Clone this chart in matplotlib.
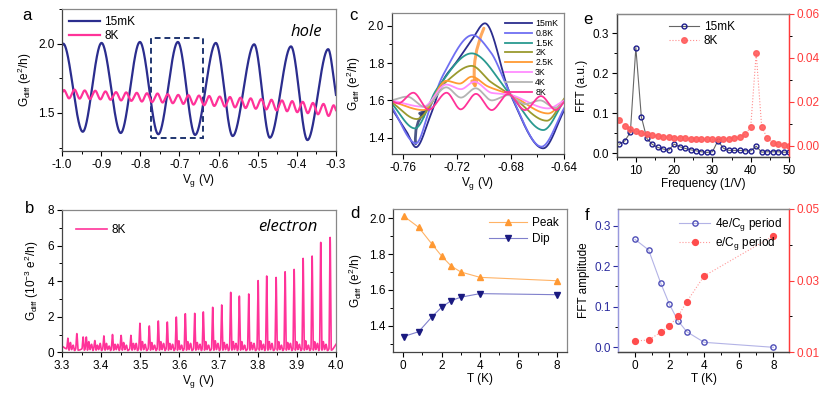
import numpy as np
import matplotlib
matplotlib.use('Agg')
import matplotlib.pyplot as plt
from matplotlib.patches import Rectangle, FancyArrowPatch
from matplotlib.ticker import MultipleLocator, FixedLocator

plt.rcParams['font.family'] = ['Liberation Sans', 'DejaVu Sans']
plt.rcParams['font.size'] = 8
plt.rcParams['mathtext.default'] = 'regular'

NAVY = '#2b2d8e'
PINK = '#ff3399'
RED = '#ff3b3b'

# ---- panel a: hole side, G_diff vs Vg (extrema) ----
a_15mk_v = [-1.0, -0.997, -0.947, -0.899, -0.850, -0.801, -0.754, -0.704, -0.660,
            -0.607, -0.564, -0.509, -0.469, -0.415, -0.373, -0.320, -0.300]
a_15mk_g = [1.985, 2.0, 1.364, 2.005, 1.355, 2.012, 1.346, 2.012, 1.341,
            2.005, 1.333, 1.995, 1.321, 1.98, 1.304, 1.96, 1.63]

a_8k_peak_v = [-0.995, -0.968, -0.942, -0.915, -0.889, -0.862, -0.836, -0.809, -0.783,
               -0.756, -0.730, -0.703, -0.677, -0.650, -0.624, -0.597, -0.571, -0.544,
               -0.518, -0.491, -0.465, -0.438, -0.412, -0.385, -0.359, -0.332, -0.306]
a_8k_peak_g = [1.665, 1.668, 1.662, 1.660, 1.655, 1.650, 1.648, 1.645, 1.642,
               1.640, 1.635, 1.630, 1.628, 1.625, 1.622, 1.618, 1.615, 1.610,
               1.605, 1.600, 1.595, 1.590, 1.585, 1.580, 1.572, 1.565, 1.555]
a_8k_dip_v = [-0.982, -0.955, -0.929, -0.902, -0.876, -0.849, -0.823, -0.796, -0.770,
              -0.743, -0.717, -0.690, -0.664, -0.637, -0.611, -0.584, -0.558, -0.531,
              -0.505, -0.478, -0.452, -0.425, -0.399, -0.372, -0.346, -0.319]
a_8k_dip_g = [1.605, 1.603, 1.600, 1.598, 1.595, 1.590, 1.587, 1.582, 1.578,
              1.575, 1.570, 1.565, 1.560, 1.555, 1.550, 1.546, 1.540, 1.535,
              1.530, 1.525, 1.518, 1.512, 1.505, 1.498, 1.490, 1.478]

# ---- panel b: electron side, 8K peaks ----
b_peak_v = [3.315, 3.338, 3.354, 3.362, 3.384, 3.407, 3.429, 3.451, 3.476, 3.499,
            3.523, 3.546, 3.569, 3.592, 3.615, 3.639, 3.661, 3.685, 3.708, 3.731,
            3.753, 3.777, 3.801, 3.823, 3.847, 3.870, 3.893, 3.916, 3.939, 3.961, 3.985]
b_peak_g = [0.79, 1.05, 0.86, 0.86, 0.66, 0.92, 1.0, 0.95, 0.95, 1.63,
            1.48, 1.76, 1.70, 1.98, 2.17, 2.19, 2.27, 2.53, 2.66, 3.37,
            3.16, 3.28, 4.03, 4.29, 4.21, 4.53, 4.66, 5.28, 5.41, 6.18, 6.46]
# small noise bumps on the baseline after each peak
b_side_g = [0.55, 0.45, 0.5, 0.6, 0.4, 0.5, 0.45, 0.55, 0.5, 0.6,
            0.55, 0.6, 0.5, 0.65, 0.6, 0.55, 0.6, 0.65, 0.55, 0.6,
            0.6, 0.55, 0.65, 0.6, 0.6, 0.55, 0.6, 0.65, 0.6, 0.6, 0.5]
b_side2_g = [0.4, 0.5, 0.35, 0.45, 0.5, 0.35, 0.45, 0.4, 0.5, 0.45,
             0.4, 0.5, 0.45, 0.4, 0.5, 0.45, 0.4, 0.5, 0.45, 0.5,
             0.4, 0.5, 0.45, 0.5, 0.4, 0.5, 0.45, 0.4, 0.5, 0.45, 0.4]

# ---- panel c: zoom of one period at several temperatures ----
c_labels = ['15mK', '0.8K', '1.5K', '2K', '2.5K', '3K', '4K', '8K']
c_colors = ['#2b2d8e', '#6f6ff2', '#2a9a90', '#9a9a2e', '#ff9a33', '#ff8cff', '#b4b4b4', '#ff3399']
c_v = [
    [-0.7686, -0.7575, -0.7505, -0.740, -0.7302, -0.7202, -0.709, -0.6991, -0.6805, -0.6557, -0.640],
    [-0.7686, -0.7505, -0.740, -0.730, -0.7083, -0.695, -0.6805, -0.657, -0.640],
    [-0.7686, -0.7513, -0.735, -0.709, -0.6805, -0.6557, -0.640],
    [-0.7686, -0.750, -0.728, -0.709, -0.695, -0.6805, -0.653, -0.640],
    [-0.7686, -0.745, -0.728, -0.718, -0.709, -0.697, -0.6805, -0.652, -0.640],
    [-0.7686, -0.745, -0.728, -0.717, -0.707, -0.694, -0.682, -0.652, -0.640],
    [-0.7686, -0.757, -0.744, -0.728, -0.717, -0.706, -0.694, -0.682, -0.669, -0.658, -0.647, -0.640],
    [-0.7686, -0.7637, -0.7525, -0.741, -0.7277, -0.7172, -0.7058, -0.6941, -0.6818, -0.6693, -0.6574, -0.6462, -0.640],
]
c_g = [
    [1.557, 1.432, 1.349, 1.513, 1.709, 1.807, 1.923, 2.013, 1.638, 1.343, 1.548],
    [1.566, 1.370, 1.560, 1.740, 1.950, 1.860, 1.640, 1.352, 1.560],
    [1.583, 1.450, 1.660, 1.852, 1.635, 1.441, 1.600],
    [1.590, 1.500, 1.700, 1.785, 1.700, 1.632, 1.491, 1.610],
    [1.595, 1.548, 1.705, 1.690, 1.727, 1.675, 1.632, 1.530, 1.600],
    [1.600, 1.566, 1.685, 1.660, 1.700, 1.640, 1.632, 1.557, 1.600],
    [1.600, 1.620, 1.565, 1.670, 1.615, 1.665, 1.600, 1.628, 1.580, 1.600, 1.560, 1.590],
    [1.597, 1.584, 1.641, 1.550, 1.641, 1.552, 1.635, 1.548, 1.634, 1.548, 1.623, 1.548, 1.593],
]

# ---- panel d: peak / dip vs T ----
T = [0.015, 0.8, 1.5, 2.0, 2.5, 3.0, 4.0, 8.0]
d_peak = [2.013, 1.950, 1.855, 1.789, 1.733, 1.700, 1.670, 1.651]
d_dip = [1.339, 1.366, 1.450, 1.503, 1.540, 1.559, 1.579, 1.573]

# ---- panel e: FFT spectra ----
freq = [5.71, 7.14, 8.57, 10.0, 11.43, 12.86, 14.29, 15.71, 17.14, 18.57, 20.0, 21.43,
        22.86, 24.29, 25.71, 27.14, 28.57, 30.0, 31.43, 32.86, 34.29, 35.71, 37.14, 38.57,
        40.0, 41.43, 42.86, 44.29, 45.71, 47.14, 48.57, 50.0]
fft_15mk = [0.023, 0.0315, 0.0525, 0.264, 0.0915, 0.0375, 0.0225, 0.015, 0.011, 0.008,
            0.023, 0.0167, 0.0125, 0.009, 0.0065, 0.004, 0.0025, 0.004, 0.0315, 0.013,
            0.0075, 0.0075, 0.0075, 0.0065, 0.006, 0.018, 0.003, 0.004, 0.004, 0.004,
            0.003, 0.003]
fft_8k = [0.0117, 0.0091, 0.0077, 0.0067, 0.0059, 0.0052, 0.0049, 0.0044, 0.0041, 0.0040,
          0.0037, 0.0035, 0.0034, 0.0032, 0.0031, 0.0029, 0.0029, 0.0029, 0.0029, 0.0031,
          0.0032, 0.0037, 0.0041, 0.0052, 0.0085, 0.0421, 0.0087, 0.0035, 0.0014, 0.0006,
          0.0003, 0.0]

# ---- panel f: FFT amplitude vs T ----
f_4e = [0.266, 0.240, 0.158, 0.106, 0.065, 0.0385, 0.0123, 0.0]
f_e = [0.01315, 0.01343, 0.0156, 0.0174, 0.0201, 0.0241, 0.0313, 0.0425]


def smooth(xk, yk, num=800):
    """Monotone cubic (PCHIP) curve through the read-off knots."""
    xk = np.asarray(xk, float)
    yk = np.asarray(yk, float)
    h = np.diff(xk)
    d = np.diff(yk) / h
    m = np.zeros_like(yk)
    m[0], m[-1] = d[0], d[-1]
    for k in range(1, len(xk) - 1):
        if d[k - 1] * d[k] > 0:
            w1 = 2 * h[k] + h[k - 1]
            w2 = h[k] + 2 * h[k - 1]
            m[k] = (w1 + w2) / (w1 / d[k - 1] + w2 / d[k])
    xs = np.linspace(xk[0], xk[-1], num)
    i = np.clip(np.searchsorted(xk, xs) - 1, 0, len(h) - 1)
    t = (xs - xk[i]) / h[i]
    ys = ((2 * t**3 - 3 * t**2 + 1) * yk[i] + (t**3 - 2 * t**2 + t) * h[i] * m[i]
          + (-2 * t**3 + 3 * t**2) * yk[i + 1] + (t**3 - t**2) * h[i] * m[i + 1])
    return xs, ys


def style(ax, top='#888888', right='#888888'):
    for s in ['left', 'bottom']:
        ax.spines[s].set_color('#444444')
    ax.spines['top'].set_color(top)
    ax.spines['right'].set_color(right)
    for s in ax.spines.values():
        s.set_linewidth(0.9)
    ax.tick_params(which='major', direction='out', length=3.5, width=0.8, labelsize=8.5, pad=2)
    ax.tick_params(which='minor', direction='out', length=2, width=0.7)


W, H = 831, 396
fig = plt.figure(figsize=(W / 100, H / 100), dpi=100)


def rect(l, r, t, b):
    return [l / W, 1 - b / H, (r - l) / W, (b - t) / H]


ax_a = fig.add_axes(rect(62, 336, 9, 151))
ax_b = fig.add_axes(rect(62, 336, 210, 352.3))
ax_c = fig.add_axes(rect(391.7, 564.3, 12.7, 154.3))
ax_d = fig.add_axes(rect(393.3, 566.7, 209, 352.3))
ax_e = fig.add_axes(rect(616.7, 789, 14, 157))
ax_f = fig.add_axes(rect(618.3, 789, 209, 352.3))

# ---- a ----
xa, ya = smooth(a_15mk_v, a_15mk_g, 2000)
ax_a.plot(xa, ya, color=NAVY, lw=1.6, label='15mK')
k8v = [-1.0] + [v for pair in zip(a_8k_peak_v, a_8k_dip_v) for v in pair] + [a_8k_peak_v[-1], -0.300]
k8g = [1.645] + [g for pair in zip(a_8k_peak_g, a_8k_dip_g) for g in pair] + [a_8k_peak_g[-1], 1.52]
xa8, ya8 = smooth(k8v, k8g, 3000)
ax_a.plot(xa8, ya8, color=PINK, lw=1.6, label='8K')
ax_a.add_patch(Rectangle((-0.773, 1.317), 0.132, 0.724, fill=False, ls=(0, (3, 2)),
                         lw=1.4, edgecolor='#1f3570'))
ax_a.set_xlim(-1.0, -0.3)
ax_a.set_ylim(1.225, 2.25)
ax_a.xaxis.set_major_locator(MultipleLocator(0.1))
ax_a.xaxis.set_minor_locator(MultipleLocator(0.05))
ax_a.yaxis.set_major_locator(MultipleLocator(0.5))
ax_a.yaxis.set_minor_locator(MultipleLocator(0.25))
ax_a.xaxis.set_major_formatter(plt.FuncFormatter(lambda v, p: f'{v:.1f}'))
ax_a.set_xlabel('V$_g$ (V)', fontsize=8.5, labelpad=1)
ax_a.set_ylabel('G$_{diff}$ (e$^2$/h)', fontsize=8.5, labelpad=3)
ax_a.legend(loc='upper left', frameon=False, fontsize=8.5, handlelength=2.6,
            borderaxespad=0.2, labelspacing=0.15, handletextpad=0.4)
ax_a.text(0.89, 0.84, 'hole', transform=ax_a.transAxes, fontsize=12, style='italic',
          family='Open Sans', ha='center', va='center')
style(ax_a)

# ---- b ----
kv, kg = [3.300], [0.35]
hw = 0.003
for i, (v, g) in enumerate(zip(b_peak_v, b_peak_g)):
    kv += [v - hw, v, v + hw]
    kg += [0.2, g, 0.12]
    nxt = b_peak_v[i + 1] if i + 1 < len(b_peak_v) else 4.0
    if nxt - v > 0.018:
        kv += [v + 0.0065, v + 0.0095, v + 0.0135, v + 0.017]
        kg += [b_side_g[i], 0.15, b_side2_g[i], 0.1]
kv.append(4.0)
kg.append(0.45)
xb, yb = smooth(kv, kg, 8000)
ax_b.plot(xb, yb, color=PINK, lw=1.2, label='8K')
ax_b.set_xlim(3.3, 4.0)
ax_b.set_ylim(0, 8)
ax_b.xaxis.set_major_locator(MultipleLocator(0.1))
ax_b.xaxis.set_minor_locator(MultipleLocator(0.05))
ax_b.yaxis.set_major_locator(MultipleLocator(2))
ax_b.yaxis.set_minor_locator(MultipleLocator(1))
ax_b.set_xlabel('V$_g$ (V)', fontsize=8.5, labelpad=1)
ax_b.set_ylabel('G$_{diff}$ (10$^{-3}$ e$^2$/h)', fontsize=8.5, labelpad=5)
ax_b.legend(loc='upper left', frameon=False, fontsize=8.5, handlelength=2.6,
            borderaxespad=0.8, handletextpad=0.4)
ax_b.text(0.825, 0.88, 'electron', transform=ax_b.transAxes, fontsize=12, style='italic',
          family='Open Sans', ha='center', va='center')
style(ax_b)

# ---- c ----
for v, g, lab, col in zip(c_v, c_g, c_labels, c_colors):
    xc, yc = smooth(v, g, 800)
    ax_c.plot(xc, yc, color=col, lw=1.3, label=lab)
ax_c.add_patch(FancyArrowPatch((-0.6991, 2.0), (-0.7059, 1.646), arrowstyle='-|>',
                               connectionstyle='arc3,rad=0.15', color='#ff9a40',
                               lw=2.2, mutation_scale=9, alpha=0.85))
ax_c.add_patch(FancyArrowPatch((-0.7505, 1.352), (-0.741, 1.565), arrowstyle='-|>',
                               connectionstyle='arc3,rad=-0.25', color='#2b3a70',
                               lw=2.0, mutation_scale=9, alpha=0.85))
ax_c.set_xlim(-0.7686, -0.64)
ax_c.set_ylim(1.311, 2.07)
ax_c.xaxis.set_major_locator(MultipleLocator(0.04))
ax_c.xaxis.set_minor_locator(MultipleLocator(0.02))
ax_c.yaxis.set_major_locator(MultipleLocator(0.2))
ax_c.yaxis.set_minor_locator(MultipleLocator(0.1))
ax_c.xaxis.set_major_formatter(plt.FuncFormatter(lambda v, p: f'{v:.2f}'))
ax_c.set_xlabel('V$_g$ (V)', fontsize=8.5, labelpad=1)
ax_c.set_ylabel('G$_{diff}$ (e$^2$/h)', fontsize=8.5, labelpad=3)
ax_c.legend(loc='upper right', frameon=False, fontsize=6.3, handlelength=3.0,
            borderaxespad=0.3, labelspacing=0.1, handletextpad=0.4)
style(ax_c)

# ---- d ----
ax_d.plot(T, d_peak, color='#ffb366', lw=0.8, marker='^', ms=4, mfc='#ff9933',
          mec='#ff9933', label='Peak')
ax_d.plot(T, d_dip, color='#8080cc', lw=0.8, marker='v', ms=4, mfc='#1a1a80',
          mec='#1a1a80', label='Dip')
ax_d.set_xlim(-0.52, 8.52)
ax_d.set_ylim(1.251, 2.052)
ax_d.xaxis.set_major_locator(MultipleLocator(2))
ax_d.xaxis.set_minor_locator(MultipleLocator(1))
ax_d.yaxis.set_major_locator(MultipleLocator(0.2))
ax_d.yaxis.set_minor_locator(MultipleLocator(0.1))
ax_d.set_xlabel('T (K)', fontsize=8.5, labelpad=1)
ax_d.set_ylabel('G$_{diff}$ (e$^2$/h)', fontsize=8.5, labelpad=3)
ax_d.legend(loc='upper right', frameon=False, fontsize=8.5, handlelength=3.2,
            borderaxespad=0.3, labelspacing=0.3, handletextpad=0.4)
style(ax_d)

# ---- e ----
ax_e2 = ax_e.twinx()
l1, = ax_e.plot(freq, fft_15mk, color='#666666', lw=0.8, marker='o', ms=3.5,
                mfc='none', mec='#1c1c8c', mew=1.0, label='15mK')
l2, = ax_e2.plot(freq, fft_8k, color='#ff8080', lw=0.8, ls=':', marker='o', ms=4,
                 mfc='#ff5c5c', mec='#ff5c5c', alpha=0.9, label='8K')
ax_e.set_xlim(5, 50)
ax_e.set_ylim(-0.009, 0.348)
ax_e2.set_ylim(-0.00515, 0.06)
ax_e.xaxis.set_major_locator(MultipleLocator(10))
ax_e.xaxis.set_minor_locator(MultipleLocator(5))
ax_e.yaxis.set_major_locator(MultipleLocator(0.1))
ax_e.yaxis.set_minor_locator(MultipleLocator(0.05))
ax_e2.yaxis.set_major_locator(MultipleLocator(0.02))
ax_e2.yaxis.set_minor_locator(MultipleLocator(0.01))
ax_e2.yaxis.set_major_formatter(plt.FuncFormatter(lambda v, p: f'{v:.2f}'))
ax_e.set_xlabel('Frequency (1/V)', fontsize=8.5, labelpad=1)
ax_e.set_ylabel('FFT (a.u.)', fontsize=8.5, labelpad=3)
style(ax_e, right=RED)
style(ax_e2, right=RED)
ax_e2.tick_params(axis='y', colors=RED)
ax_e2.legend([l1, l2], ['15mK', '8K'], loc='upper left', bbox_to_anchor=(0.26, 1.0),
             frameon=False, fontsize=8.5, handlelength=2.6, labelspacing=0.15,
             handletextpad=0.4, borderaxespad=0.2)

# ---- f ----
ax_f2 = ax_f.twinx()
m1, = ax_f.plot(T, f_4e, color='#b3b3e6', lw=0.8, marker='o', ms=3.8, mfc='none',
                mec='#5050b8', mew=1.0)
m2, = ax_f2.plot(T, f_e, color='#ff9999', lw=0.8, ls=':', marker='o', ms=4.2,
                 mfc='#ff4d4d', mec='#ff4d4d')
ax_f.set_xlim(-0.95, 8.9)
ax_f.set_ylim(-0.0123, 0.341)
ax_f2.set_ylim(0.01, 0.05)
ax_f.xaxis.set_major_locator(MultipleLocator(2))
ax_f.xaxis.set_minor_locator(MultipleLocator(1))
ax_f.yaxis.set_major_locator(MultipleLocator(0.1))
ax_f.yaxis.set_minor_locator(MultipleLocator(0.05))
ax_f2.yaxis.set_major_locator(FixedLocator([0.01, 0.03, 0.05]))
ax_f2.yaxis.set_minor_locator(FixedLocator([0.02, 0.04]))
ax_f2.yaxis.set_major_formatter(plt.FuncFormatter(lambda v, p: f'{v:.2f}'))
ax_f.set_xlabel('T (K)', fontsize=8.5, labelpad=1)
ax_f.set_ylabel('FFT amplitude', fontsize=8.5, labelpad=3)
style(ax_f, right=RED)
style(ax_f2, right=RED)
for a_ in (ax_f, ax_f2):
    a_.spines['left'].set_color('#9999dd')
ax_f.tick_params(axis='y', colors='#2b2b9e')
ax_f2.tick_params(axis='y', colors=RED)
ax_f2.legend([m1, m2], ['4e/C$_g$ period', 'e/C$_g$ period'], loc='upper right',
             frameon=False, fontsize=8.5, handlelength=2.6, labelspacing=0.15,
             handletextpad=0.4, borderaxespad=0.2)

# panel letters
for lab, x, y in [('a', 27, 15), ('b', 30, 208), ('c', 353, 15), ('d', 355, 213),
                  ('e', 588, 20), ('f', 587, 215)]:
    fig.text(x / W, 1 - y / H, lab, fontsize=12, ha='center', va='center')

fig.savefig('out.png', dpi=100)
